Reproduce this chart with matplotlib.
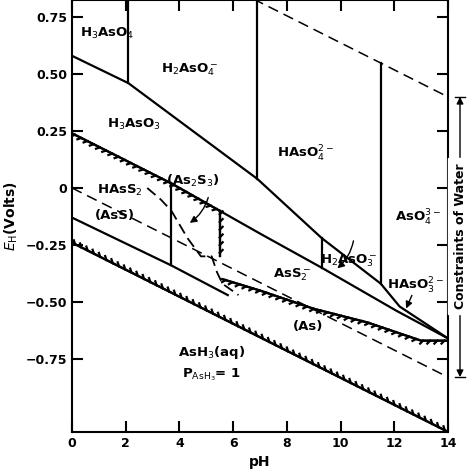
import matplotlib
matplotlib.use("Agg")
import matplotlib.pyplot as plt
import matplotlib.patheffects as pe

# boundaries (pH, Eh)
upper_pH = [0, 2.1, 6.9, 9.3, 11.5, 12.2, 14]
upper_E = [0.58, 0.46, 0.04, -0.22, -0.42, -0.52, -0.66]
midh_pH = [0, 3.7, 5.5]
midh_E = [0.24, 0.02, -0.10]
mid_pH = [5.5, 7.0, 9.3, 12.1, 14]
mid_E = [-0.10, -0.20, -0.35, -0.54, -0.66]
low_pH = [0, 3.7, 5.8]
low_E = [-0.13, -0.34, -0.47]
as_pH = [5.6, 7.0, 9.0, 11.0, 13.0, 14]
as_E = [-0.40, -0.45, -0.53, -0.59, -0.67, -0.67]
ash3_pH = [0, 14]
ash3_E = [-0.24, -1.07]
o2_pH = [0, 14]
o2_E = [1.23, 0.40]
h2_pH = [0, 14]
h2_E = [0.0, -0.83]
as2s3_pH = [2.8, 3.3, 3.7, 4.3, 4.8, 5.2, 5.4, 5.6, 6.2]
as2s3_E = [0.0, -0.05, -0.10, -0.22, -0.30, -0.30, -0.37, -0.42, -0.47]
box_pH = [5.5, 5.5]
box_E = [-0.10, -0.30]
verticals = [(2.1, 0.46, 0.9), (6.9, 0.04, 0.9), (11.5, -0.42, 0.55), (9.3, -0.35, -0.22), (3.7, 0.02, -0.34)]

def hatch(angle):
    return [pe.Stroke(), pe.withTickedStroke(angle=angle, spacing=5, length=0.6, linewidth=1.6)]

fig = plt.figure(figsize=(4.74, 4.74), dpi=100)
ax = fig.add_axes([0.152, 0.089, 0.793, 0.911])
k = dict(color='black', lw=1.6)
ax.plot(upper_pH, upper_E, **k)
ax.plot(midh_pH, midh_E, **k, path_effects=hatch(-135))
ax.plot(mid_pH, mid_E, **k)
ax.plot(low_pH, low_E, **k)
ax.plot(as_pH, as_E, **k, path_effects=hatch(-135))
ax.plot(ash3_pH, ash3_E, **k, path_effects=hatch(135))
ax.plot(o2_pH, o2_E, color='black', lw=1.1, ls=(0, (7, 4)))
ax.plot(h2_pH, h2_E, color='black', lw=1.1, ls=(0, (7, 4)))
ax.plot(as2s3_pH, as2s3_E, color='black', lw=1.3, ls=(0, (6, 3)))
ax.plot(box_pH, box_E, **k, path_effects=hatch(135))
for x, y0, y1 in verticals:
    ax.plot([x, x], [y0, y1], **k)

ax.set_xlim(0, 14)
ax.set_ylim(-1.07, 0.825)
ax.set_xticks(range(0, 15, 2))
ax.set_yticks([-0.75, -0.5, -0.25, 0, 0.25, 0.5, 0.75])
ax.set_yticklabels(['\u22120.75', '\u22120.50', '\u22120.25', '0', '0.25', '0.50', '0.75'])
ax.tick_params(direction='in', length=8, width=1.5, labelsize=9, right=True, top=True)
for t in ax.get_xticklabels() + ax.get_yticklabels():
    t.set_fontweight('bold')
for s in ax.spines.values():
    s.set_linewidth(1.5)
ax.set_xlabel('pH', fontweight='bold', fontsize=10)
ax.set_ylabel(r'$E_{\rm H}$(Volts)', fontweight='bold', fontsize=10)

fs = 9.5
lab = [(1.3, 0.68, r'H$_3$AsO$_4$'), (4.4, 0.52, r'H$_2$AsO$_4^-$'), (2.3, 0.28, r'H$_3$AsO$_3$'),
       (8.7, 0.15, r'HAsO$_4^{2-}$'), (1.8, -0.01, r'HAsS$_2$'), (4.5, 0.03, r'(As$_2$S$_3$)'),
       (1.6, -0.12, '(AsS)'), (12.9, -0.13, r'AsO$_4^{3-}$'), (10.3, -0.32, r'H$_2$AsO$_3^-$'),
       (8.2, -0.38, r'AsS$_2^-$'), (12.8, -0.43, r'HAsO$_3^{2-}$'), (8.8, -0.61, '(As)'),
       (5.2, -0.72, r'AsH$_3$(aq)'), (5.2, -0.82, r'P$_{\rm AsH_3}$= 1')]
for x, y, s in lab:
    ax.text(x, y, s, ha='center', va='center', fontsize=fs, fontweight='bold')
ax.annotate('', xy=(4.3, -0.16), xytext=(5.1, -0.03), arrowprops=dict(arrowstyle='-|>', color='k', connectionstyle='arc3,rad=-0.2'))
ax.annotate('', xy=(9.8, -0.36), xytext=(10.5, -0.22), arrowprops=dict(arrowstyle='-|>', color='k', connectionstyle='arc3,rad=-0.2'))
ax.annotate('', xy=(12.4, -0.54), xytext=(12.7, -0.46), arrowprops=dict(arrowstyle='-|>', color='k'))
ax.annotate('', xy=(14.45, 0.40), xytext=(14.45, -0.83), annotation_clip=False,
            arrowprops=dict(arrowstyle='<|-|>', color='k', lw=1, shrinkA=0, shrinkB=0))
for y in (0.40, -0.83):
    ax.plot([14.25, 14.65], [y, y], color='k', lw=1, clip_on=False)
ax.text(14.45, -0.21, 'Constraints of Water', rotation=90, ha='center', va='center', fontsize=9,
        fontweight='bold', backgroundcolor='white', clip_on=False)
fig.savefig('out.png', dpi=100)
